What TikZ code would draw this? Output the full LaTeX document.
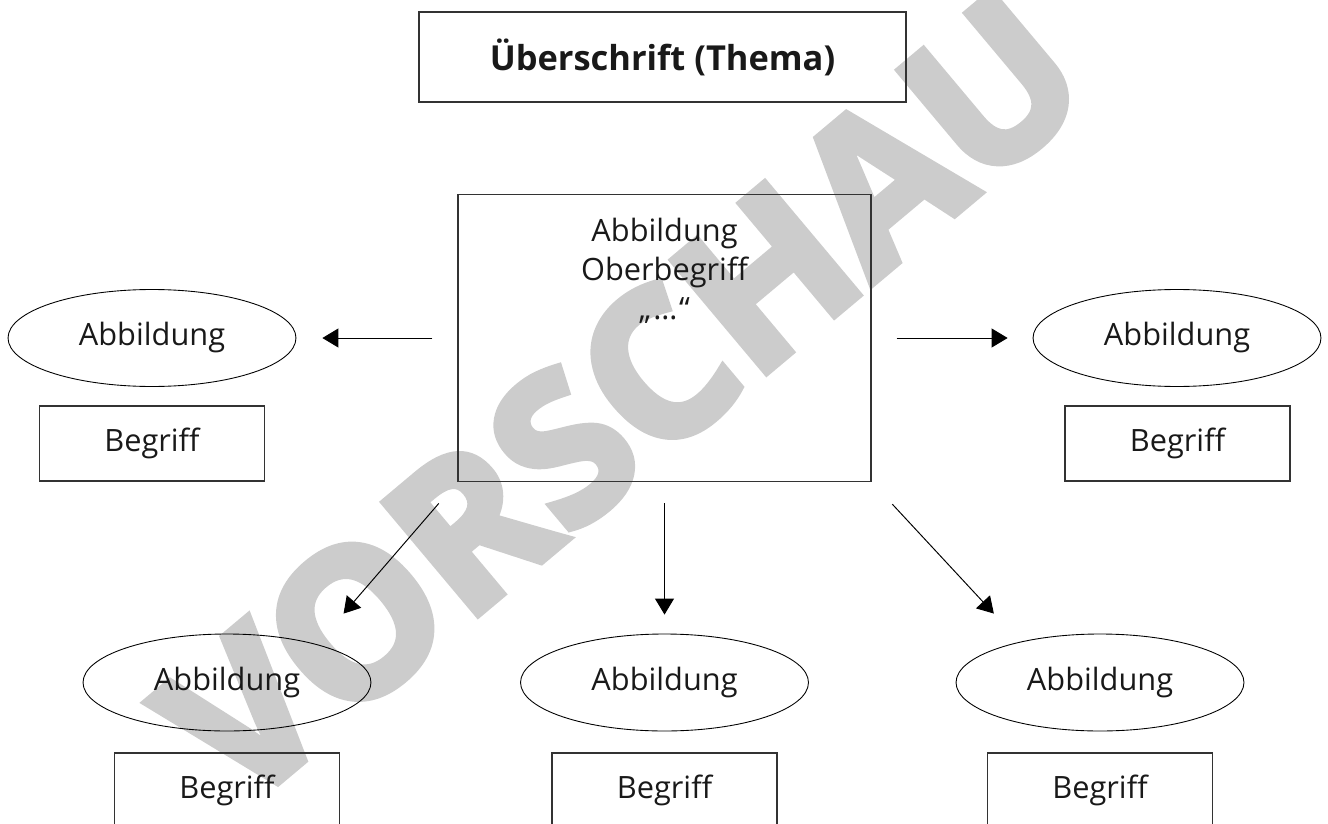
\documentclass[tikz,border=0pt]{standalone}
\usepackage{fontspec}
\setmainfont{Open Sans}
\newfontfamily\wmfont[FakeBold=4]{Open Sans}
\usetikzlibrary{arrows.meta,positioning,shapes.geometric}

\begin{document}
\begin{tikzpicture}[
    x=0.02cm,y=-0.02cm,
    every node/.style={font=\fontsize{17.5}{21}\selectfont, text=black!90},
    titlebox/.style={draw=black!80, line width=0.7pt, minimum width=9.74cm, minimum height=1.8cm,
      font=\fontsize{19.6}{23}\selectfont\bfseries},
    bigbox/.style={draw=black!80, line width=0.7pt, minimum width=8.26cm, minimum height=5.73cm},
    termbox/.style={draw=black!80, line width=0.7pt, minimum width=4.5cm, minimum height=1.5cm},
    figure/.style={draw, ellipse, line width=0.5pt, minimum width=5.76cm, minimum height=1.94cm,
      inner sep=0pt},
    link/.style={-{Triangle[length=0.32cm,width=0.38cm]}, line width=0.55pt}
  ]
    \clip (0,0) rectangle (1328,824);

    % watermark, behind everything
    \node[rotate=40, text=black!20, font=\fontsize{116}{116}\selectfont\wmfont\bfseries] (wm) at (622,398) {VORSCHAU};

    \node[titlebox] (title) at (662.5,57) {Überschrift (Thema)};
    \node[bigbox, label={[anchor=north, align=center, inner sep=0pt, yshift=-0.48cm,
        font=\fontsize{17.5}{22.2}\selectfont]north:Abbildung\\Oberbegriff\\„\kern1pt…\kern1pt“}]
      (ober) at (664.5,338) {};

    \node[figure] (e1) at (152,338) {Abbildung};
    \node[termbox] (b1) at (152,443.5) {Begriff};
    \node[figure] (e2) at (1177,338) {Abbildung};
    \node[termbox] (b2) at (1177.5,443.5) {Begriff};

    \node[figure] (e3) at (227,682.5) {Abbildung};
    \node[termbox] (b3) at (227,790.5) {Begriff};
    \node[figure] (e4) at (664.5,682.5) {Abbildung};
    \node[termbox] (b4) at (664.5,790.5) {Begriff};
    \node[figure] (e5) at (1100,682.5) {Abbildung};
    \node[termbox] (b5) at (1100,790.5) {Begriff};

    \draw[link, shorten <=0.5cm, shorten >=0.52cm] (ober.west) -- (e1.east);
    \draw[link, shorten <=0.5cm, shorten >=0.5cm] (ober.east) -- (e2.west);
    \draw[link, shorten <=0.57cm, shorten >=0.81cm] (ober.south west) -- (e3.23);
    \draw[link, shorten <=0.43cm, shorten >=0.38cm] (ober.south) -- (e4.north);
    \draw[link, shorten <=0.61cm, shorten >=0.77cm] (ober.south east) -- (e5.153);
\end{tikzpicture}
\end{document}
